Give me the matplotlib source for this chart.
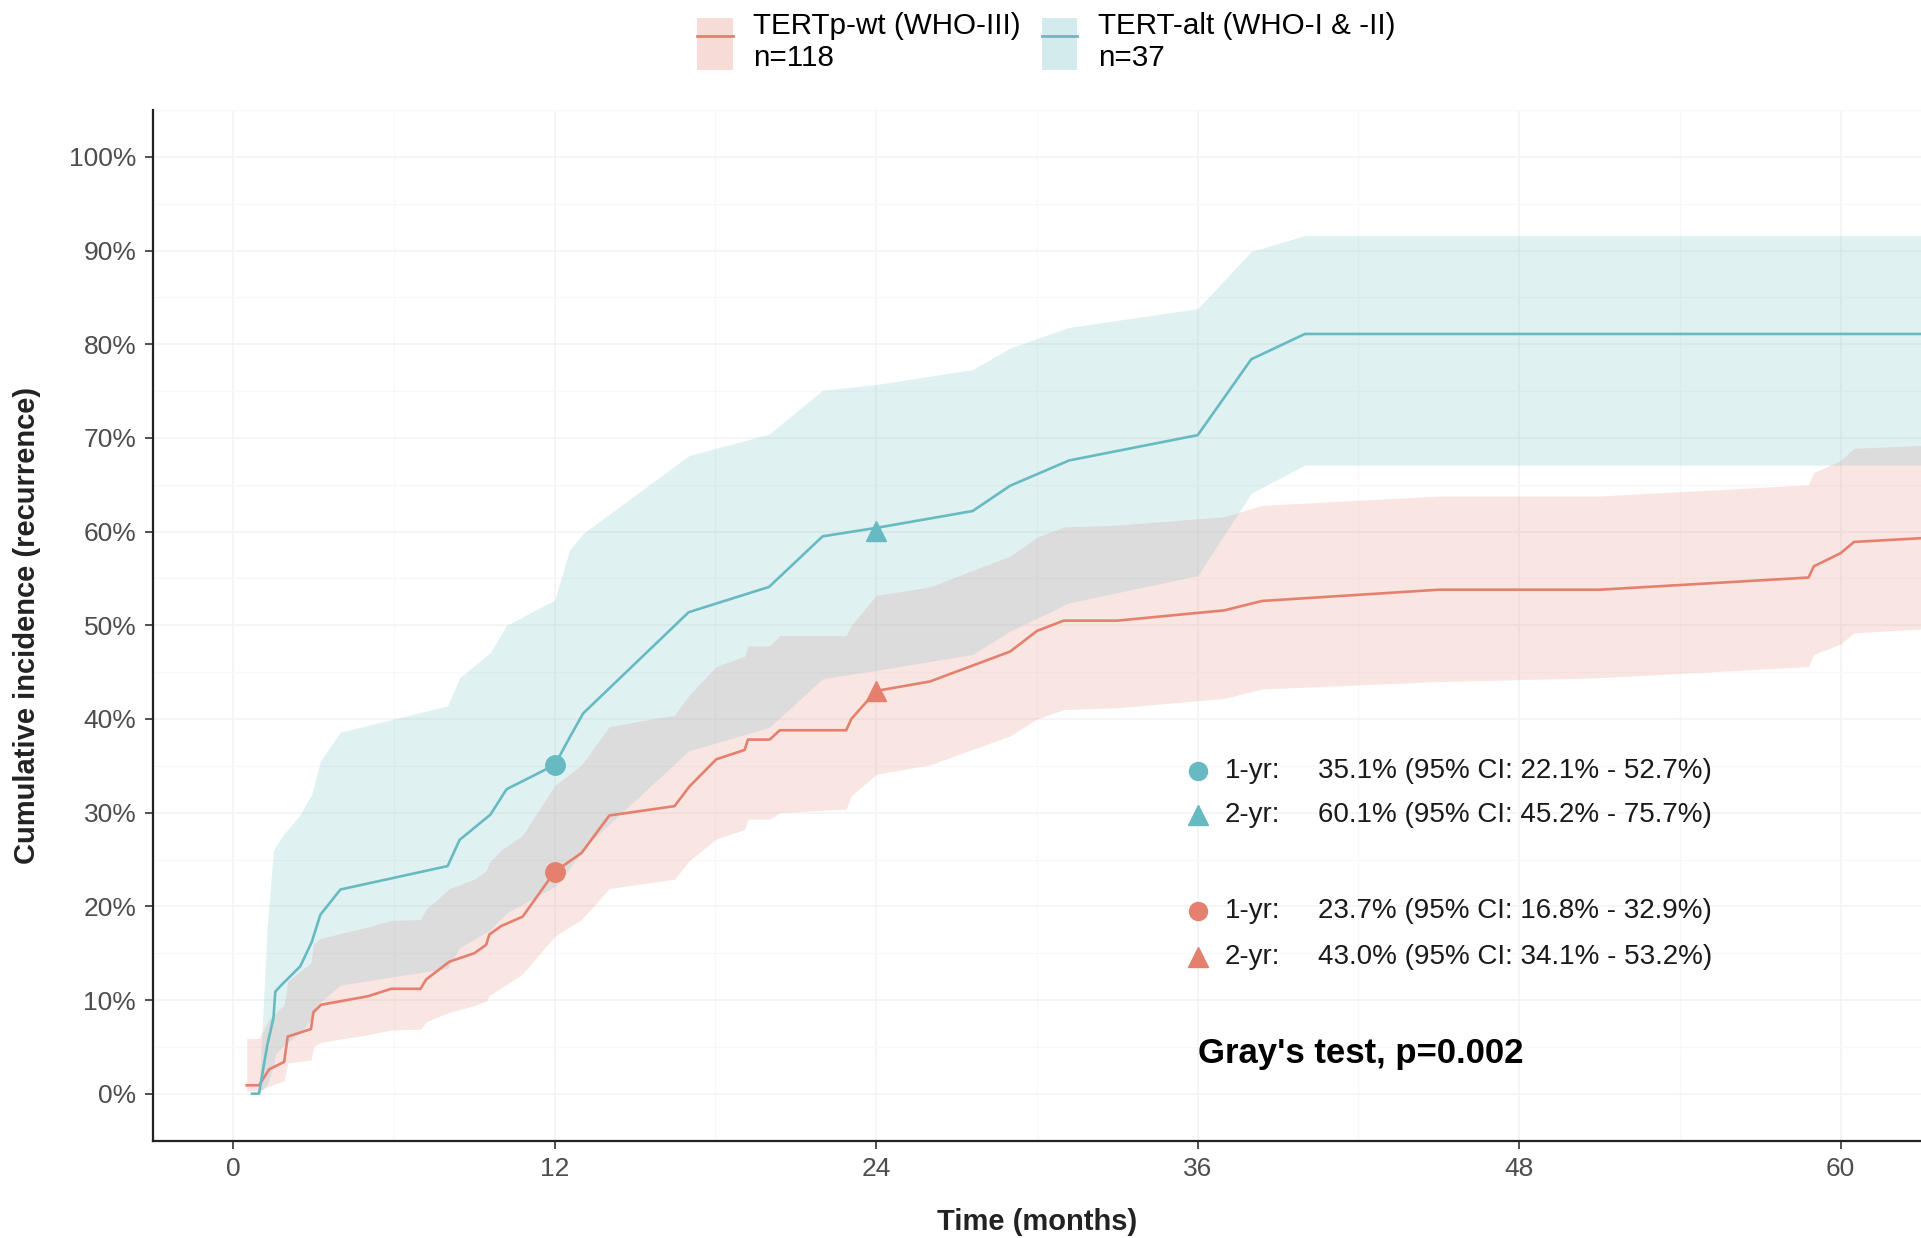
import matplotlib
matplotlib.use('Agg')
import matplotlib.pyplot as plt
from matplotlib.lines import Line2D
from matplotlib.patches import Patch
from matplotlib.ticker import MultipleLocator, FuncFormatter

plt.rcParams['font.family'] = ['Liberation Sans', 'DejaVu Sans']

# TERTp-wt (WHO-III), n=118 : time (months), cumulative incidence (%), 95% CI
wt_t = [0.5, 0.96, 1.34, 1.9, 2.03, 2.9, 2.99, 3.28, 5.02, 5.89, 6.99, 7.2, 8.07, 9.0, 9.44,
        9.56, 10.0, 10.8, 12.0, 13.0, 14.04, 16.47, 17.03, 18.03, 19.09, 19.21, 20.02, 20.4,
        22.88, 23.07, 24.0, 26.0, 29.0, 30.0, 31.0, 33.0, 37.0, 38.4, 45.0, 51.0, 58.8, 59.0,
        60.0, 60.5, 63.0]
wt_est = [0.9, 0.9, 2.6, 3.4, 6.1, 6.9, 8.7, 9.5, 10.4, 11.2, 11.2, 12.2, 14.1, 15.0, 15.9,
          17.0, 17.9, 18.9, 23.7, 25.7, 29.7, 30.7, 32.8, 35.7, 36.7, 37.8, 37.8, 38.8,
          38.8, 40.0, 43.0, 44.0, 47.2, 49.4, 50.5, 50.5, 51.6, 52.6, 53.8, 53.8, 55.1, 56.3,
          57.7, 58.9, 59.3]
wt_lo = [0.3, 0.3, 0.8, 1.4, 3.3, 3.6, 5.0, 5.5, 6.3, 6.8, 6.9, 7.7, 8.7, 9.4, 9.9,
         10.5, 11.3, 12.8, 16.8, 18.6, 21.9, 22.9, 24.9, 27.2, 28.2, 29.3, 29.3, 30.0,
         30.4, 31.8, 34.1, 35.1, 38.2, 40.0, 41.0, 41.2, 42.2, 43.2, 44.0, 44.4, 45.6, 46.9,
         48.0, 49.2, 49.6]
wt_hi = [5.9, 5.9, 8.0, 9.5, 12.0, 14.0, 16.0, 16.6, 17.8, 18.5, 18.6, 19.7, 21.9, 22.9, 23.8,
         24.7, 26.0, 27.6, 32.9, 35.1, 39.2, 40.4, 42.6, 45.6, 46.7, 47.8, 47.8, 48.9,
         48.9, 50.0, 53.2, 54.1, 57.4, 59.4, 60.5, 60.7, 61.6, 62.8, 63.8, 63.8, 65.0, 66.3,
         67.6, 68.9, 69.2]

# TERT-alt (WHO-I & -II), n=37
alt_t = [0.7, 0.96, 1.27, 1.5, 1.57, 1.83, 2.5, 2.93, 3.25, 4.0, 8.0, 8.45, 9.6, 10.2, 12.0,
         12.55, 13.06, 17.0, 20.0, 22.0, 24.0, 27.6, 29.0, 31.2, 36.0, 38.0, 40.0, 63.0]
alt_est = [0.0, 0.0, 5.2, 8.1, 10.9, 11.7, 13.6, 16.2, 19.1, 21.8, 24.3, 27.1, 29.8, 32.5, 35.1,
           38.0, 40.6, 51.4, 54.1, 59.5, 60.4, 62.2, 64.9, 67.6, 70.3, 78.4, 81.1, 81.1]
alt_lo = [0.0, 0.0, 1.0, 3.0, 4.2, 5.0, 6.5, 8.0, 9.8, 11.6, 13.4, 15.6, 17.5, 19.3, 22.1,
          24.0, 26.2, 36.6, 39.1, 44.3, 45.2, 46.9, 49.4, 52.4, 55.3, 64.1, 67.1, 67.1]
alt_hi = [0.0, 0.3, 18.0, 26.0, 26.3, 27.5, 29.8, 32.0, 35.5, 38.6, 41.4, 44.4, 47.1, 50.0, 52.7,
          58.0, 59.8, 68.1, 70.4, 75.1, 75.7, 77.3, 79.6, 81.8, 83.8, 89.9, 91.6, 91.6]

# landmark estimates [estimate, lower, upper]
alt_1yr = [35.1, 22.1, 52.7]
alt_2yr = [60.1, 45.2, 75.7]
wt_1yr = [23.7, 16.8, 32.9]
wt_2yr = [43.0, 34.1, 53.2]

labels = ['TERTp-wt (WHO-III)\nn=118', 'TERT-alt (WHO-I & -II)\nn=37']
x_ticks = [0, 12, 24, 36, 48, 60]
y_ticks = list(range(0, 101, 10))

RED = '#E5806F'
TEAL = '#67BAC2'

fig = plt.figure(figsize=(19.21, 12.38), dpi=100)
ax = fig.add_axes([0.0796, 0.0787, 0.9204, 0.8324])

ax.fill_between(wt_t, wt_lo, wt_hi, color=RED, alpha=0.2, lw=0)
ax.fill_between(alt_t, alt_lo, alt_hi, color=TEAL, alpha=0.2, lw=0)
ax.plot(wt_t, wt_est, color=RED, lw=1.9)
ax.plot(alt_t, alt_est, color=TEAL, lw=1.9)

# 1-yr / 2-yr markers on curves
ax.plot(12, alt_1yr[0], 'o', ms=14, color=TEAL)
ax.plot(24, alt_2yr[0], '^', ms=15, color=TEAL)
ax.plot(12, wt_1yr[0], 'o', ms=14, color=RED)
ax.plot(24, wt_2yr[0], '^', ms=15, color=RED)

# text block
rows = [(34.5, 'o', TEAL, '1-yr:', alt_1yr), (29.8, '^', TEAL, '2-yr:', alt_2yr),
        (19.5, 'o', RED, '1-yr:', wt_1yr), (14.6, '^', RED, '2-yr:', wt_2yr)]
for yy, mk, col, lab, v in rows:
    ax.plot(36, yy, mk, ms=13 if mk == 'o' else 14, color=col)
    ax.text(37, yy, lab, fontsize=20, va='center', ha='left', color='#1A1A1A')
    ax.text(40.5, yy, '{:.1f}% (95% CI: {:.1f}% - {:.1f}%)'.format(*v),
            fontsize=20, va='center', ha='left', color='#1A1A1A')
ax.text(36, 4.3, "Gray's test, p=0.002", fontsize=25, fontweight='bold', va='center', ha='left')

ax.set_xlim(-3, 63)
ax.set_ylim(-5, 105)
ax.set_xticks(x_ticks)
ax.set_yticks(y_ticks)
ax.yaxis.set_major_formatter(FuncFormatter(lambda v, p: '{:d}%'.format(int(v))))
ax.xaxis.set_minor_locator(MultipleLocator(6))
ax.yaxis.set_minor_locator(MultipleLocator(5))
ax.tick_params(which='major', labelsize=19, colors='#333333', labelcolor='#4D4D4D',
               length=6, width=1.2, pad=6)
ax.tick_params(which='minor', length=0)
ax.set_axisbelow(True)
ax.grid(which='major', color='#F3F3F3', lw=1.2)
ax.grid(which='minor', color='#F8F8F8', lw=0.9)
for s in ['top', 'right']:
    ax.spines[s].set_visible(False)
for s in ['left', 'bottom']:
    ax.spines[s].set_linewidth(1.6)
    ax.spines[s].set_color('#222222')

ax.set_xlabel('Time (months)', fontsize=21, fontweight='bold', color='#222222')
ax.set_ylabel('Cumulative incidence (recurrence)', fontsize=21, fontweight='bold', color='#222222')
ax.xaxis.set_label_coords(0.5, -0.0654)
ax.yaxis.label.set_va('center')
ax.yaxis.set_label_coords(-0.0713, 0.5)

handles = [(Patch(facecolor=RED, alpha=0.28, edgecolor='none'), Line2D([], [], color=RED, lw=2)),
           (Patch(facecolor=TEAL, alpha=0.28, edgecolor='none'), Line2D([], [], color=TEAL, lw=2))]
fig.legend(handles, labels, loc='center', bbox_to_anchor=(0.5447, 0.966), ncol=2,
           frameon=False, fontsize=21.3, handlelength=1.2, handleheight=2.3,
           handletextpad=0.7, columnspacing=0.7, borderpad=0, borderaxespad=0)

fig.savefig('out.png', dpi=100)
